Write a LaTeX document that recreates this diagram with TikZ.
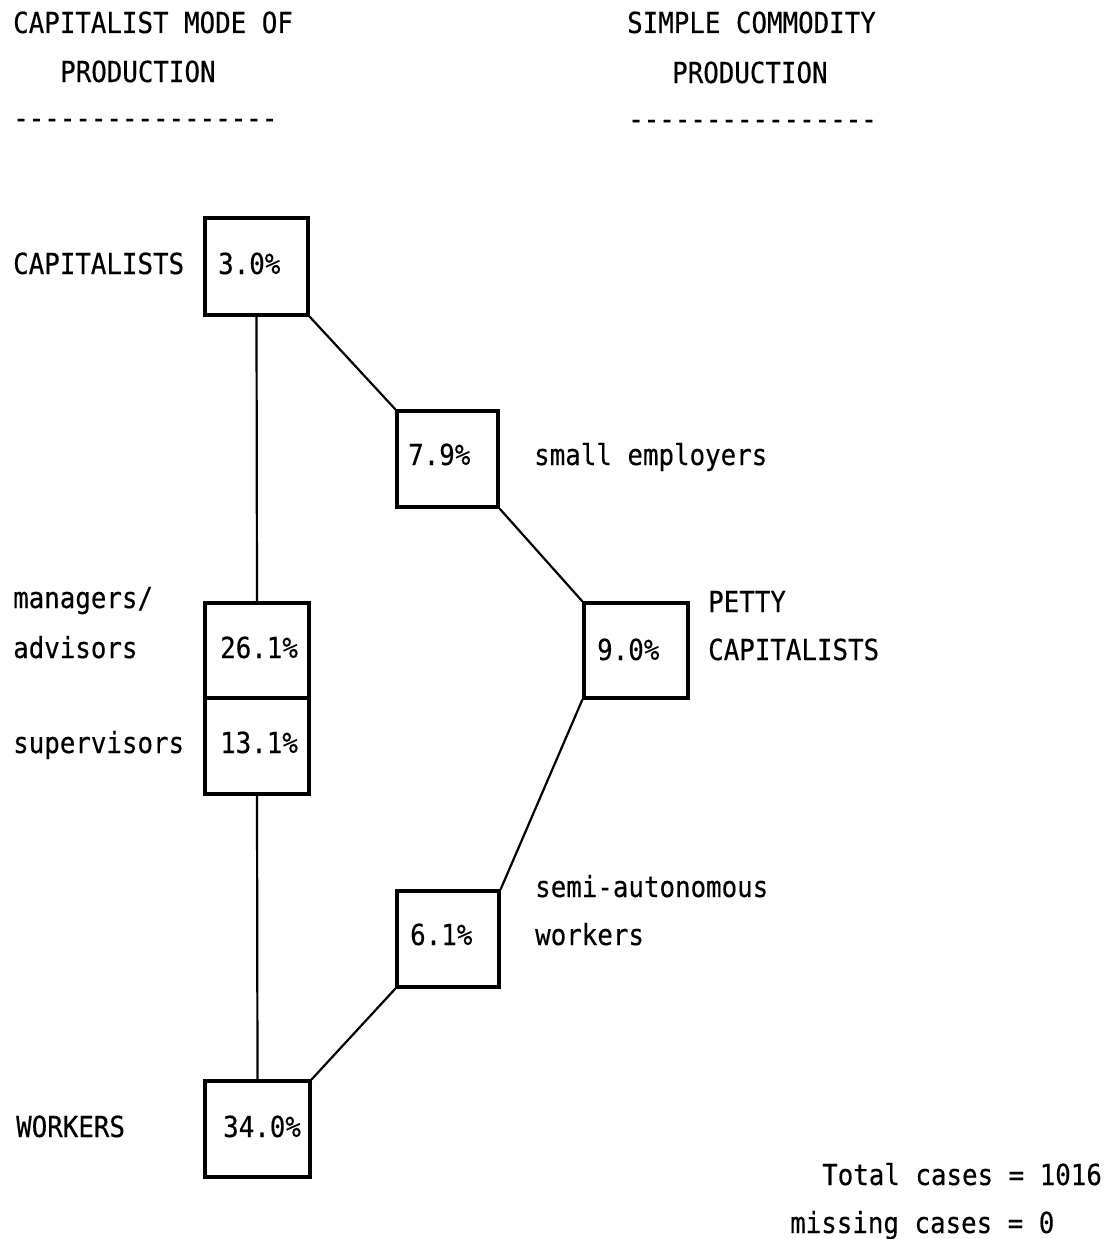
\documentclass[tikz,border=0pt]{standalone}
\usepackage{fontspec}
\setmonofont{DejaVu Sans Mono}[FakeStretch=0.89,FakeBold=0.35]
\begin{document}
\begin{tikzpicture}[x=1pt,y=-1pt,
  txt/.style={anchor=base west,inner sep=0pt,font=\ttfamily\fontsize{29}{34}\selectfont},
  box/.style={draw,line width=3.2pt,rectangle,inner sep=0pt},
  link/.style={line width=2.2pt}]
\useasboundingbox[fill=white] (0,0) rectangle (1109,1239);

% column headings
\node[txt] (h1a) at (13,33) {CAPITALIST MODE OF};
\node[txt] (h1b) at (60,82) {PRODUCTION};
\node[txt] (h1c) at (13,128) {-----------------};
\node[txt] (h2a) at (627,33) {SIMPLE COMMODITY};
\node[txt] (h2b) at (672,83) {PRODUCTION};
\node[txt] (h2c) at (628,129) {----------------};

% class boxes
\node[box,minimum width=103pt,minimum height=97pt] (cap)   at (256.5,266.5) {};
\node[box,minimum width=101pt,minimum height=96pt] (emp)   at (447.5,459) {};
\node[box,minimum width=104pt,minimum height=95pt] (petty) at (636,650.5) {};
\node[box,minimum width=104pt,minimum height=95pt] (mgr)   at (257,650.5) {};
\node[box,minimum width=104pt,minimum height=96pt] (sup)   at (257,746) {};
\node[box,minimum width=102pt,minimum height=96pt] (semi)  at (448,939) {};
\node[box,minimum width=105pt,minimum height=96pt] (wrk)   at (257.5,1129) {};

% percentages
\node[txt] (pcap)   at (218,274) {3.0\%};
\node[txt] (pemp)   at (408,465) {7.9\%};
\node[txt] (ppetty) at (597,660) {9.0\%};
\node[txt] (pmgr)   at (220,658) {26.1\%};
\node[txt] (psup)   at (220,753) {13.1\%};
\node[txt] (psemi)  at (410,945) {6.1\%};
\node[txt] (pwrk)   at (223,1137) {34.0\%};

% class names
\node[txt] (lcap)   at (13,274) {CAPITALISTS};
\node[txt] (lemp)   at (534,465) {small employers};
\node[txt] (lpet1)  at (708,612) {PETTY};
\node[txt] (lpet2)  at (708,660) {CAPITALISTS};
\node[txt] (lmgr1)  at (13,608) {managers/};
\node[txt] (lmgr2)  at (13,658) {advisors};
\node[txt] (lsup)   at (13,753) {supervisors};
\node[txt] (lsemi1) at (535,897) {semi-autonomous};
\node[txt] (lsemi2) at (535,945) {workers};
\node[txt] (lwrk)   at (16,1137) {WORKERS};

% totals
\node[txt] (tot)  at (822,1185) {Total cases = 1016};
\node[txt] (miss) at (790,1233) {missing cases = 0};

% connectors
\draw[link] (cap.south) -- (mgr.north);
\draw[link] (sup.south) -- (wrk.north);
\draw[link] (cap.south east) -- (emp.north west);
\draw[link] (emp.south east) -- (petty.north west);
\draw[link] (petty.south west) -- (semi.north east);
\draw[link] (semi.south west) -- (wrk.north east);
\end{tikzpicture}
\end{document}
